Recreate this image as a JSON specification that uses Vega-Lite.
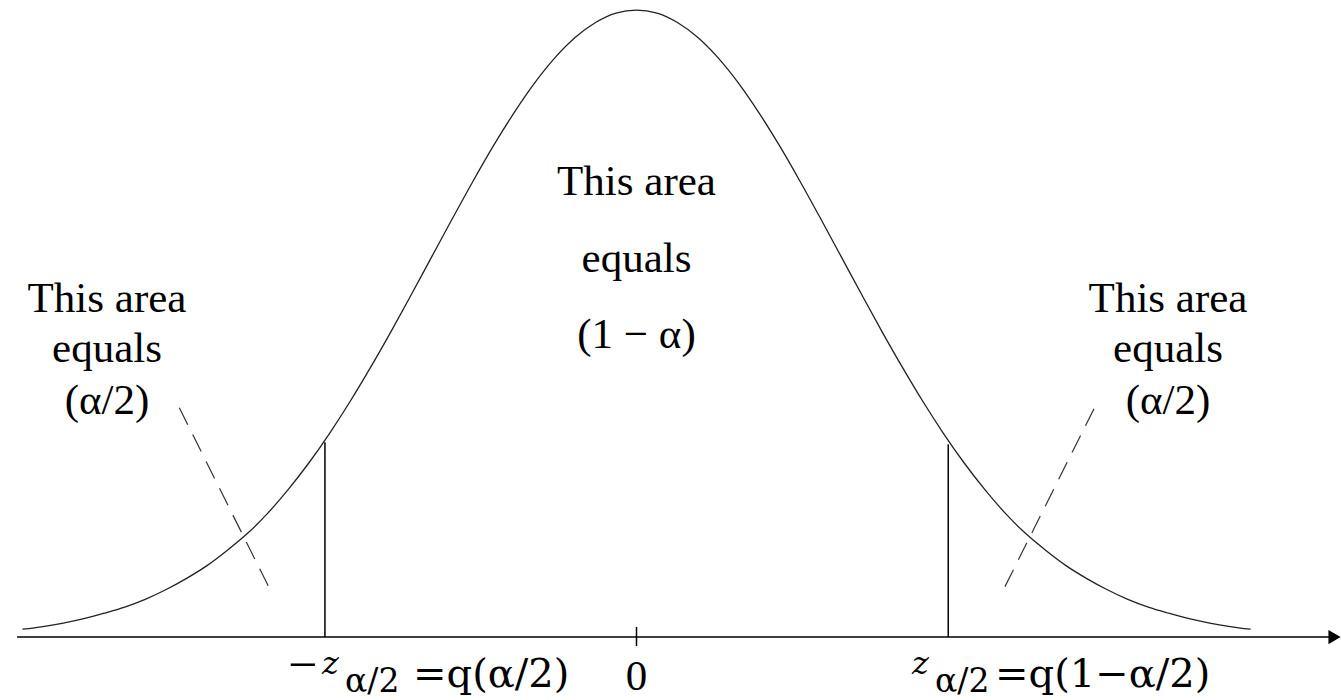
{
  "$schema": "https://vega.github.io/schema/vega-lite/v6.json",
  "width": 1341,
  "height": 700,
  "autosize": {"type": "fit", "contains": "padding"},
  "padding": 0,
  "background": "white",
  "config": {"view": {"stroke": null}},
  "datasets": {
    "curve": [
      {"x": -3.0, "y": 0.0050}, {"x": -2.9, "y": 0.0067}, {"x": -2.8, "y": 0.0089}, {"x": -2.7, "y": 0.0117},
      {"x": -2.6, "y": 0.0152}, {"x": -2.5, "y": 0.0191}, {"x": -2.4, "y": 0.0240}, {"x": -2.3, "y": 0.0301},
      {"x": -2.2, "y": 0.0372}, {"x": -2.1, "y": 0.0453}, {"x": -2.0, "y": 0.0551}, {"x": -1.9, "y": 0.0660},
      {"x": -1.8, "y": 0.0790}, {"x": -1.7, "y": 0.0941}, {"x": -1.6, "y": 0.1109}, {"x": -1.5, "y": 0.1295},
      {"x": -1.4, "y": 0.1497}, {"x": -1.3, "y": 0.1714}, {"x": -1.2, "y": 0.1942}, {"x": -1.1, "y": 0.2179},
      {"x": -1.0, "y": 0.2420}, {"x": -0.9, "y": 0.2661}, {"x": -0.8, "y": 0.2897}, {"x": -0.7, "y": 0.3123},
      {"x": -0.6, "y": 0.3332}, {"x": -0.5, "y": 0.3521}, {"x": -0.4, "y": 0.3683}, {"x": -0.3, "y": 0.3814},
      {"x": -0.2, "y": 0.3910}, {"x": -0.1, "y": 0.3970}, {"x": 0.0, "y": 0.3989}, {"x": 0.1, "y": 0.3970},
      {"x": 0.2, "y": 0.3910}, {"x": 0.3, "y": 0.3814}, {"x": 0.4, "y": 0.3683}, {"x": 0.5, "y": 0.3521},
      {"x": 0.6, "y": 0.3332}, {"x": 0.7, "y": 0.3123}, {"x": 0.8, "y": 0.2897}, {"x": 0.9, "y": 0.2661},
      {"x": 1.0, "y": 0.2420}, {"x": 1.1, "y": 0.2179}, {"x": 1.2, "y": 0.1942}, {"x": 1.3, "y": 0.1714},
      {"x": 1.4, "y": 0.1497}, {"x": 1.5, "y": 0.1295}, {"x": 1.6, "y": 0.1109}, {"x": 1.7, "y": 0.0941},
      {"x": 1.8, "y": 0.0790}, {"x": 1.9, "y": 0.0660}, {"x": 2.0, "y": 0.0551}, {"x": 2.1, "y": 0.0453},
      {"x": 2.2, "y": 0.0372}, {"x": 2.3, "y": 0.0301}, {"x": 2.4, "y": 0.0240}, {"x": 2.5, "y": 0.0191},
      {"x": 2.6, "y": 0.0152}, {"x": 2.7, "y": 0.0117}, {"x": 2.8, "y": 0.0089}, {"x": 2.9, "y": 0.0067},
      {"x": 3.0, "y": 0.0050}
    ],
    "solid": [
      {"x": -3.026, "y": 0, "x2": 3.398, "y2": 0},
      {"x": -1.522, "y": 0, "x2": -1.522, "y2": 0.1239},
      {"x": 1.523, "y": 0, "x2": 1.523, "y2": 0.1226},
      {"x": 0.0, "y": -0.0057, "x2": 0.0, "y2": 0.0064}
    ],
    "dashed": [
      {"x": -2.2335, "y": 0.1459, "x2": -1.787, "y2": 0.0294},
      {"x": 2.235, "y": 0.1453, "x2": 1.7919, "y2": 0.0300}
    ],
    "arrow": [{"x": 3.41, "y": 0}],
    "notes": [
      {"x": 0.0, "y": 0.2814, "label": "This area"},
      {"x": 0.0, "y": 0.2325, "label": "equals"},
      {"x": 0.0, "y": 0.1842, "label": "(1 − α)"},
      {"x": -2.5867, "y": 0.2071, "label": "This area"},
      {"x": -2.5867, "y": 0.1753, "label": "equals"},
      {"x": -2.5867, "y": 0.1417, "label": "(α/2)"},
      {"x": 2.5965, "y": 0.2071, "label": "This area"},
      {"x": 2.5965, "y": 0.1753, "label": "equals"},
      {"x": 2.5965, "y": 0.1417, "label": "(α/2)"},
      {"x": 0.0, "y": -0.0337, "label": "0"}
    ],
    "minus": [
      {"x": -1.7025, "y": -0.0287, "label": "−"}
    ],
    "zsym": [
      {"x": -1.5364, "y": -0.0235, "label": "z"},
      {"x": 1.3459, "y": -0.0235, "label": "z"}
    ],
    "zsub": [
      {"x": -1.424, "y": -0.0349, "label": "α/2"},
      {"x": 1.4582, "y": -0.0349, "label": "α/2"}
    ],
    "quant": [
      {"x": -1.0918, "y": -0.0318, "label": "=q(α/2)"},
      {"x": 1.7514, "y": -0.0318, "label": "=q(1−α/2)"}
    ]
  },
  "encoding": {
    "x": {"field": "x", "type": "quantitative", "axis": null, "scale": {"domain": [-3.1094, 3.4416], "nice": false, "zero": false}},
    "y": {"field": "y", "type": "quantitative", "axis": null, "scale": {"domain": [-0.03939, 0.40529], "nice": false, "zero": false}}
  },
  "layer": [
    {
      "data": {"name": "curve"},
      "mark": {"type": "line", "color": "#222", "strokeWidth": 1.3, "interpolate": "monotone"}
    },
    {
      "data": {"name": "solid"},
      "mark": {"type": "rule", "color": "#000", "strokeWidth": 1.5},
      "encoding": {"x2": {"field": "x2"}, "y2": {"field": "y2"}}
    },
    {
      "data": {"name": "dashed"},
      "mark": {"type": "rule", "color": "#333", "strokeWidth": 1.2, "strokeDash": [19, 11]},
      "encoding": {"x2": {"field": "x2"}, "y2": {"field": "y2"}}
    },
    {
      "data": {"name": "arrow"},
      "mark": {"type": "point", "shape": "triangle-right", "filled": true, "color": "#000", "size": 200, "opacity": 1}
    },
    {
      "data": {"name": "notes"},
      "mark": {"type": "text", "font": "Liberation Serif", "fontSize": 43, "align": "center", "baseline": "alphabetic", "color": "#000"},
      "encoding": {"text": {"field": "label"}}
    },
    {
      "data": {"name": "minus"},
      "mark": {"type": "text", "font": "Liberation Serif", "fontSize": 52, "align": "left", "baseline": "alphabetic", "color": "#000"},
      "encoding": {"text": {"field": "label"}}
    },
    {
      "data": {"name": "zsym"},
      "mark": {"type": "text", "font": "DejaVu Serif", "fontStyle": "italic", "fontSize": 32, "align": "left", "baseline": "alphabetic", "color": "#000"},
      "encoding": {"text": {"field": "label"}}
    },
    {
      "data": {"name": "zsub"},
      "mark": {"type": "text", "font": "DejaVu Serif", "fontSize": 33, "align": "left", "baseline": "alphabetic", "color": "#000"},
      "encoding": {"text": {"field": "label"}}
    },
    {
      "data": {"name": "quant"},
      "mark": {"type": "text", "font": "DejaVu Serif", "fontSize": 40, "align": "left", "baseline": "alphabetic", "color": "#000"},
      "encoding": {"text": {"field": "label"}}
    }
  ]
}
